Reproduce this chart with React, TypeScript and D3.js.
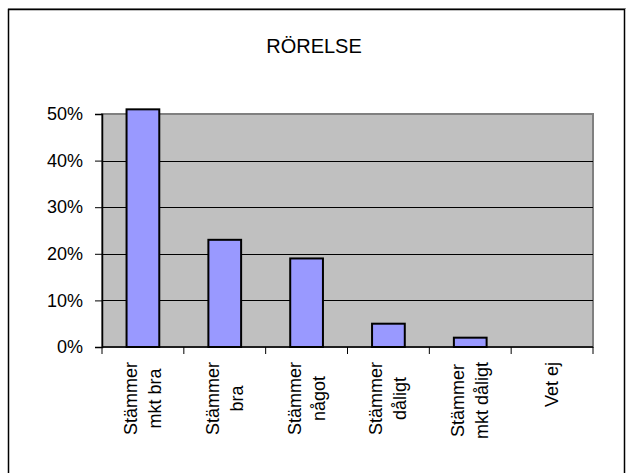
// @ts-nocheck
import React, { useEffect, useRef } from "react";
import * as d3 from "d3";

const title = "RÖRELSE";
const categories = [
  ["Stämmer", "mkt bra"],
  ["Stämmer", "bra"],
  ["Stämmer", "något"],
  ["Stämmer", "dåligt"],
  ["Stämmer", "mkt dåligt"],
  ["Vet ej"],
];
const values = [0.51, 0.23, 0.19, 0.05, 0.02, 0];
const yTicks = [0, 0.1, 0.2, 0.3, 0.4, 0.5];

const W = 627;
const H = 473;
const FONT = "'Liberation Sans', Arial, sans-serif";

export default function App() {
  const svgRef = useRef(null);

  useEffect(() => {
    const svg = d3.select(svgRef.current);
    svg.selectAll("*").remove();

    const plot = { left: 102, right: 593, top: 114, bottom: 347 };

    // outer frame
    svg.append("line")
      .attr("x1", 8).attr("x2", 626).attr("y1", 8.5).attr("y2", 8.5)
      .attr("stroke", "#999").attr("stroke-width", 1);
    svg.append("rect")
      .attr("x", 8.5).attr("y", 9.5)
      .attr("width", 616).attr("height", 480)
      .attr("fill", "none").attr("stroke", "#000").attr("stroke-width", 1.5);

    svg.append("text")
      .attr("x", 314).attr("y", 53)
      .attr("text-anchor", "middle")
      .attr("font-family", FONT)
      .attr("font-size", 20)
      .attr("fill", "#000")
      .text(title);

    const x = d3.scaleBand()
      .domain(categories.map((d, i) => i))
      .range([plot.left, plot.right])
      .paddingInner(0)
      .paddingOuter(0);

    const y = d3.scaleLinear().domain([0, 0.5]).range([plot.bottom, plot.top]);

    // plot background
    svg.append("rect")
      .attr("x", plot.left).attr("y", plot.top)
      .attr("width", plot.right - plot.left)
      .attr("height", plot.bottom - plot.top)
      .attr("fill", "#c0c0c0")
      .attr("stroke", "#808080")
      .attr("stroke-width", 2);

    // gridlines
    svg.append("g")
      .selectAll("line")
      .data(yTicks.filter((t) => t > 0 && t < 0.5))
      .join("line")
      .attr("x1", plot.left).attr("x2", plot.right)
      .attr("y1", (d) => Math.round(y(d)) + 0.5)
      .attr("y2", (d) => Math.round(y(d)) + 0.5)
      .attr("stroke", "#000").attr("stroke-width", 1);

    // bars
    const bw = x.bandwidth() * 0.4;
    svg.append("g")
      .selectAll("rect")
      .data(values.map((v, i) => ({ v, i })).filter((d) => d.v > 0))
      .join("rect")
      .attr("x", (d) => x(d.i) + (x.bandwidth() - bw) / 2)
      .attr("y", (d) => y(d.v))
      .attr("width", bw)
      .attr("height", (d) => y(0) - y(d.v))
      .attr("fill", "#9999ff")
      .attr("stroke", "#000")
      .attr("stroke-width", 2);

    // y axis
    const yAxis = svg.append("g")
      .attr("transform", `translate(${plot.left},0)`)
      .call(d3.axisLeft(y).tickValues(yTicks).tickFormat(d3.format(".0%")).tickSize(7).tickPadding(12));
    yAxis.select(".domain").attr("stroke", "#000").attr("stroke-width", 1.5);
    yAxis.selectAll(".tick line").attr("stroke", "#000");
    yAxis.selectAll("text")
      .attr("font-family", FONT)
      .attr("font-size", 18)
      .attr("fill", "#000");

    // x axis
    svg.append("line")
      .attr("x1", plot.left).attr("x2", plot.right)
      .attr("y1", plot.bottom).attr("y2", plot.bottom)
      .attr("stroke", "#000").attr("stroke-width", 1.5);
    const bounds = categories.map((d, i) => x(i)).concat([plot.right]);
    svg.append("g")
      .selectAll("line")
      .data(bounds)
      .join("line")
      .attr("x1", (d) => d).attr("x2", (d) => d)
      .attr("y1", plot.bottom).attr("y2", plot.bottom + 7)
      .attr("stroke", "#000").attr("stroke-width", 1);

    // x labels (rotated)
    const labelTop = 362;
    const lineGap = 24;
    categories.forEach((lines, i) => {
      const cx = x(i) + x.bandwidth() / 2;
      const g = svg.append("g");
      const texts = lines.map((ln) =>
        g.append("text")
          .attr("font-family", FONT)
          .attr("font-size", 18)
          .attr("fill", "#000")
          .attr("text-anchor", "middle")
          .text(ln)
      );
      const maxLen = d3.max(texts, (t) => t.node().getComputedTextLength());
      const cy = labelTop + maxLen / 2;
      texts.forEach((t, j) => {
        const bx = cx + 6 + (j - (lines.length - 1) / 2) * lineGap;
        t.attr("transform", `translate(${bx},${cy}) rotate(-90)`);
      });
    });
  }, []);

  return (
    <svg
      ref={svgRef}
      width={W}
      height={H}
      style={{ position: "absolute", left: 0, top: 0, background: "#fff" }}
    />
  );
}
